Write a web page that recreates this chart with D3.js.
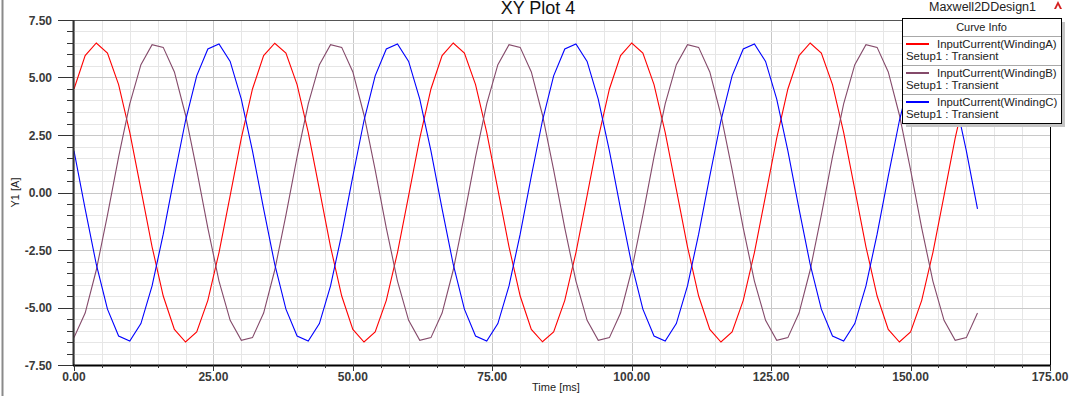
<html>
  <head>
    <meta charset="utf-8">
    <title> XY Plot 4 </title>
    <style>
      body { margin: 0; background: #fff; }
      text { font-family: "Liberation Sans", Arial, sans-serif; }
    </style>
  </head>
  <body>
  <script src="https://d3js.org/d3.v7.min.js"></script>

    <script>
    var w = 1080;
    var h = 396;

    // time samples [ms]
    var timeMs = [0, 2, 4, 6, 8, 10, 12, 14, 16, 18, 20, 22, 24, 26, 28, 30,
      32, 34, 36, 38, 40, 42, 44, 46, 48, 50, 52, 54, 56, 58, 60, 62,
      64, 66, 68, 70, 72, 74, 76, 78, 80, 82, 84, 86, 88, 90, 92, 94,
      96, 98, 100, 102, 104, 106, 108, 110, 112, 114, 116, 118, 120, 122, 124, 126,
      128, 130, 132, 134, 136, 138, 140, 142, 144, 146, 148, 150, 152, 154, 156, 158,
      160, 162];

    var windingA = [4.50, 5.95, 6.50, 6.06, 4.69, 2.61, 0.14, -2.36, -4.50, -5.95, -6.50, -6.06, -4.69, -2.61, -0.14, 2.36,
      4.50, 5.95, 6.49, 6.06, 4.69, 2.61, 0.14, -2.36, -4.50, -5.95, -6.50, -6.06, -4.69, -2.61, -0.14, 2.36,
      4.50, 5.95, 6.50, 6.06, 4.69, 2.61, 0.14, -2.36, -4.50, -5.95, -6.49, -6.06, -4.69, -2.61, -0.14, 2.36,
      4.50, 5.95, 6.50, 6.06, 4.69, 2.61, 0.14, -2.36, -4.50, -5.95, -6.50, -6.06, -4.69, -2.61, -0.14, 2.36,
      4.50, 5.95, 6.50, 6.06, 4.69, 2.61, 0.14, -2.36, -4.50, -5.95, -6.50, -6.06, -4.69, -2.61, -0.14, 2.36,
      4.50, 5.95];

    var windingB = [-6.31, -5.24, -3.37, -0.98, 1.55, 3.85, 5.56, 6.43, 6.31, 5.24, 3.37, 0.98, -1.55, -3.85, -5.56, -6.43,
      -6.31, -5.24, -3.37, -0.98, 1.55, 3.85, 5.56, 6.43, 6.31, 5.24, 3.37, 0.98, -1.55, -3.85, -5.56, -6.43,
      -6.31, -5.24, -3.37, -0.98, 1.55, 3.85, 5.56, 6.43, 6.31, 5.24, 3.37, 0.98, -1.55, -3.85, -5.56, -6.43,
      -6.31, -5.24, -3.37, -0.98, 1.55, 3.85, 5.56, 6.43, 6.31, 5.24, 3.37, 0.98, -1.55, -3.85, -5.56, -6.43,
      -6.31, -5.24, -3.37, -0.98, 1.55, 3.85, 5.56, 6.43, 6.31, 5.24, 3.37, 0.98, -1.55, -3.85, -5.56, -6.43,
      -6.31, -5.24];

    var windingC = [1.81, -0.71, -3.13, -5.07, -6.24, -6.46, -5.70, -4.06, -1.81, 0.71, 3.13, 5.07, 6.24, 6.46, 5.70, 4.06,
      1.81, -0.71, -3.13, -5.07, -6.24, -6.46, -5.70, -4.06, -1.81, 0.71, 3.13, 5.07, 6.24, 6.46, 5.70, 4.06,
      1.81, -0.71, -3.13, -5.07, -6.24, -6.46, -5.70, -4.06, -1.81, 0.71, 3.13, 5.07, 6.24, 6.46, 5.70, 4.06,
      1.81, -0.71, -3.13, -5.07, -6.24, -6.46, -5.70, -4.06, -1.81, 0.71, 3.13, 5.07, 6.24, 6.46, 5.70, 4.06,
      1.81, -0.71, -3.13, -5.07, -6.24, -6.46, -5.70, -4.06, -1.81, 0.71, 3.13, 5.07, 6.24, 6.46, 5.70, 4.06,
      1.81, -0.71];

    var curveNames = ['InputCurrent(WindingA)', 'InputCurrent(WindingB)', 'InputCurrent(WindingC)'];
    var curveColors = ['#ff0000', '#844a6a', '#0000ff'];
    var xTicks = [0, 25, 50, 75, 100, 125, 150, 175];
    var yTicks = [-7.5, -5, -2.5, 0, 2.5, 5, 7.5];

    var svg = d3.select('body')
                .append('svg')
                .attr('width', w)
                .attr('height', h);

    var pLeft = 74, pRight = 1050, pTop = 20, pBottom = 365;

    var x = d3.scaleLinear().domain([0, 175]).range([pLeft, pRight]);
    var y = d3.scaleLinear().domain([-7.5, 7.5]).range([pBottom, pTop]);

    // outer frame line on the left
    svg.append('line')
       .attr('x1', 2.5).attr('x2', 2.5).attr('y1', 0).attr('y2', h)
       .attr('stroke', '#8a8a8a').attr('stroke-width', 2);

    // grid
    var grid = svg.append('g');
    grid.selectAll('.vminor')
        .data(d3.range(0, 176, 5))
        .enter().append('line')
        .attr('x1', d => Math.round(x(d)) + 0.5).attr('x2', d => Math.round(x(d)) + 0.5)
        .attr('y1', pTop).attr('y2', pBottom)
        .attr('stroke', d => d % 25 === 0 ? '#c8c8c8' : '#e6e6e6');
    grid.selectAll('.hminor')
        .data(d3.range(-15, 16).map(d => d / 2))
        .enter().append('line')
        .attr('x1', pLeft).attr('x2', pRight)
        .attr('y1', d => Math.round(y(d)) + 0.5).attr('y2', d => Math.round(y(d)) + 0.5)
        .attr('stroke', d => (d * 2) % 5 === 0 ? '#c8c8c8' : '#e6e6e6');

    // curves
    var series = [windingA, windingB, windingC];
    svg.append('clipPath').attr('id', 'clip')
       .append('rect').attr('x', pLeft).attr('y', pTop)
       .attr('width', pRight - pLeft).attr('height', pBottom - pTop);

    var line = d3.line()
                 .x((d, i) => x(timeMs[i]))
                 .y(d => y(d));

    svg.append('g').attr('clip-path', 'url(#clip)')
       .selectAll('path')
       .data(series)
       .enter().append('path')
       .attr('d', d => line(d))
       .attr('fill', 'none')
       .attr('stroke', (d, i) => curveColors[i])
       .attr('stroke-width', 1.1);

    // top and right borders
    svg.append('line')
       .attr('x1', 58).attr('x2', pRight).attr('y1', pTop + 0.5).attr('y2', pTop + 0.5)
       .attr('stroke', '#555');
    svg.append('line')
       .attr('x1', pRight + 0.5).attr('x2', pRight + 0.5).attr('y1', pTop).attr('y2', pBottom)
       .attr('stroke', '#000');

    // y axis
    var yAxis = svg.append('g');
    yAxis.append('line')
         .attr('x1', pLeft - 0.5).attr('x2', pLeft - 0.5).attr('y1', pTop).attr('y2', pBottom)
         .attr('stroke', '#333').attr('stroke-width', 2);
    yAxis.selectAll('.ytick')
         .data(d3.range(-15, 16).map(d => d / 2))
         .enter().append('line')
         .attr('x1', d => (d * 2) % 5 === 0 ? 58 : 67).attr('x2', pLeft)
         .attr('y1', d => Math.round(y(d)) + 0.5).attr('y2', d => Math.round(y(d)) + 0.5)
         .attr('stroke', '#333');
    yAxis.selectAll('.ylab')
         .data(yTicks)
         .enter().append('text')
         .attr('x', 52).attr('y', d => y(d) + 4.5)
         .attr('text-anchor', 'end')
         .attr('font-size', 12).attr('font-weight', 'bold').attr('fill', '#3a3a3a')
         .text(d => d.toFixed(2));
    svg.append('text')
       .attr('transform', 'translate(19,' + (y(0)) + ') rotate(-90)')
       .attr('text-anchor', 'middle')
       .attr('font-size', 11).attr('fill', '#222')
       .text('Y1 [A]');

    // x axis
    var xAxis = svg.append('g');
    xAxis.append('line')
         .attr('x1', pLeft - 1).attr('x2', pRight + 1).attr('y1', pBottom + 0.5).attr('y2', pBottom + 0.5)
         .attr('stroke', '#000').attr('stroke-width', 2);
    xAxis.selectAll('.xtick')
         .data(d3.range(0, 176, 5))
         .enter().append('line')
         .attr('x1', d => Math.round(x(d)) + 0.5).attr('x2', d => Math.round(x(d)) + 0.5)
         .attr('y1', pBottom).attr('y2', d => d % 25 === 0 ? pBottom + 6 : pBottom + 3)
         .attr('stroke', '#333');
    xAxis.selectAll('.xlab')
         .data(xTicks)
         .enter().append('text')
         .attr('x', d => x(d)).attr('y', 381)
         .attr('text-anchor', 'middle')
         .attr('font-size', 12).attr('font-weight', 'bold').attr('fill', '#3a3a3a')
         .text(d => d.toFixed(2));
    svg.append('text')
       .attr('x', 556).attr('y', 391)
       .attr('text-anchor', 'middle')
       .attr('font-size', 11).attr('fill', '#222')
       .text('Time [ms]');

    // titles
    svg.append('text')
       .attr('x', 538).attr('y', 14)
       .attr('text-anchor', 'middle')
       .attr('font-size', 18).attr('fill', '#111')
       .text('XY Plot 4');
    svg.append('text')
       .attr('x', 929).attr('y', 11)
       .attr('font-size', 12.5).attr('fill', '#222')
       .text('Maxwell2DDesign1');
    svg.append('path')
       .attr('d', 'M1054,9 L1058,1 L1062,9 L1060,9 L1058,5 L1056,9 Z')
       .attr('fill', '#d42020');

    // legend
    var lg = svg.append('g');
    var lx = 902, ly = 18, lw = 159, rowH = 29, headH = 18;
    lg.append('rect')
      .attr('x', lx + 4).attr('y', ly + 4).attr('width', lw).attr('height', headH + rowH * 3)
      .attr('fill', '#c4c4c4');
    lg.append('rect')
      .attr('x', lx + 0.5).attr('y', ly + 0.5).attr('width', lw).attr('height', headH + rowH * 3)
      .attr('fill', '#fff').attr('stroke', '#000');
    lg.append('text')
      .attr('x', lx + lw / 2).attr('y', ly + 13)
      .attr('text-anchor', 'middle')
      .attr('font-size', 11).attr('fill', '#222')
      .text('Curve Info');

    var rows = lg.selectAll('.row')
                 .data(curveNames)
                 .enter().append('g')
                 .attr('transform', (d, i) => 'translate(' + lx + ',' + (ly + headH + i * rowH) + ')');
    rows.append('line')
        .attr('x1', 1).attr('x2', lw).attr('y1', 0.5).attr('y2', 0.5)
        .attr('stroke', '#a8a8a8');
    rows.append('line')
        .attr('x1', 4).attr('x2', 27).attr('y1', 8).attr('y2', 8)
        .attr('stroke', (d, i) => curveColors[i]).attr('stroke-width', 2);
    rows.append('text')
        .attr('x', 35).attr('y', 12)
        .attr('font-size', 11.4).attr('fill', '#222')
        .text(d => d);
    rows.append('text')
        .attr('x', 4).attr('y', 24)
        .attr('font-size', 11.4).attr('fill', '#222')
        .text('Setup1 : Transient');

      </script>
    </body>
</html>
